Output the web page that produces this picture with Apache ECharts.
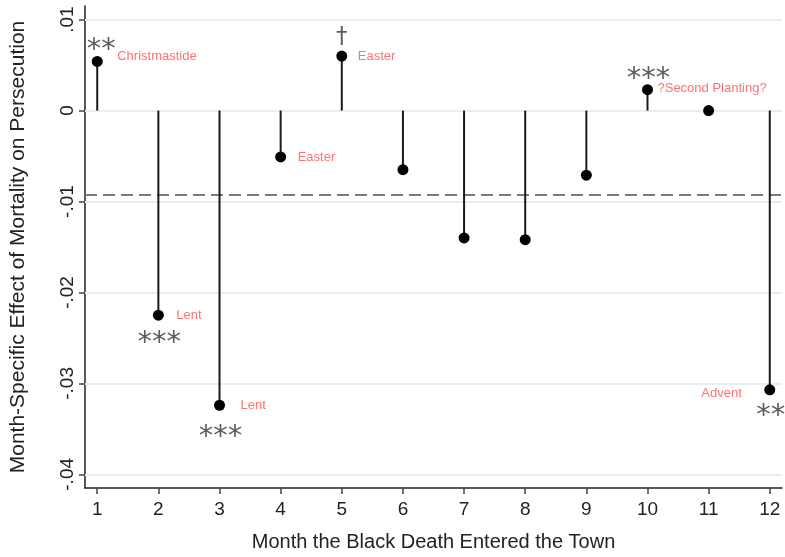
<!DOCTYPE html>
<html>
<head>
<meta charset="utf-8">
<script src="https://cdn.jsdelivr.net/npm/echarts@6/dist/echarts.min.js"></script>
<style>html,body{margin:0;padding:0;background:#fff}#c{width:785px;height:557px}</style>
</head>
<body>
<div id="c"></div>
<script>
// ---- data ----
const months = [1,2,3,4,5,6,7,8,9,10,11,12];
const effects = [0.0054,-0.0225,-0.0324,-0.0051,0.0060,-0.0065,-0.0140,-0.0142,-0.0071,0.0023,0.0000,-0.0307];
const eventLabels = ['Christmastide','Lent','Lent','Easter','Easter','','','','','?Second Planting?','','Advent'];
const stars = ['**','***','***','','\u2020','','','','','***','','**'];
const yTicks = [-0.04,-0.03,-0.02,-0.01,0,0.01];
const xTicks = [1,2,3,4,5,6,7,8,9,10,11,12];
const meanEffect = -0.0093;

// ---- placement (style) ----
const evPlace = {
  0:{position:'right',distance:15,offset:[0,-5]},
  1:{position:'right',distance:13,offset:[0,0]},
  2:{position:'right',distance:16,offset:[0,0]},
  3:{position:'right',distance:12,offset:[0,0]},
  4:{position:'right',distance:11,offset:[0,0]},
  9:{position:'right',distance:5,offset:[0,-1]},
  11:{position:'left',distance:23,offset:[0,4]}
};
const starOff = {0:[4,-11],1:[1,28],2:[1,32],4:[0,-19],9:[1,-10],11:[1,27]};

const FONT = '"Liberation Sans", Arial, sans-serif';
const chart = echarts.init(document.getElementById('c'), null, {renderer:'canvas'});

const evData = [], starData = [];
months.forEach((m,i)=>{
  if(eventLabels[i]){
    const p = evPlace[i];
    evData.push({value:[m,effects[i]], label:{show:true, formatter:eventLabels[i], position:p.position, distance:p.distance, offset:p.offset}});
  }
  if(stars[i]){
    starData.push({value:[m,effects[i]], label:{show:true, formatter:stars[i], position:'inside', offset:starOff[i],
      fontSize: stars[i]==='\u2020'?23:29}});
  }
});

chart.setOption({
  animation:false,
  grid:{left:84,right:3,top:6,bottom:64,containLabel:false},
  xAxis:{
    type:'value', min:0.8, max:12.2,
    name:'Month the Black Death Entered the Town', nameLocation:'middle', nameGap:44,
    nameTextStyle:{fontFamily:FONT,fontSize:20,color:'#222'},
    axisLine:{show:true,onZero:false,lineStyle:{color:'#222',width:1.5}},
    axisTick:{show:true,customValues:xTicks,length:6,lineStyle:{color:'#444',width:1.5}},
    axisLabel:{customValues:xTicks,fontFamily:FONT,fontSize:19,color:'#222',margin:12},
    splitLine:{show:false}
  },
  yAxis:{
    type:'value', min:-0.0415, max:0.0115,
    name:'Month-Specific Effect of Mortality on Persecution', nameLocation:'middle', nameGap:56,
    nameTextStyle:{fontFamily:FONT,fontSize:21,color:'#222'},
    axisLine:{show:true,onZero:false,lineStyle:{color:'#222',width:1.5}},
    axisTick:{show:true,customValues:yTicks,length:6,lineStyle:{color:'#444',width:1.5}},
    axisLabel:{customValues:yTicks,rotate:90,fontFamily:FONT,fontSize:19,color:'#222',margin:8,
      formatter:v=> v===0?'0':v.toFixed(2).replace('0.','.')},
    splitLine:{show:false}
  },
  series:[
    {
      type:'line', data:[], z:1, silent:true,
      markLine:{z:1,symbol:'none',silent:true,precision:4,label:{show:false},
        lineStyle:{color:'#e6eef1',width:2,type:'solid'},
        data:yTicks.map(v=>({yAxis:v}))}
    },
    {
      type:'line', data:[], z:2, silent:true,
      markLine:{z:2,symbol:'none',silent:true,precision:5,label:{show:false},
        lineStyle:{color:'#7a7a7a',width:2,type:[12,6]},
        data:[{yAxis:meanEffect}]}
    },
    {
      type:'custom', z:3, silent:true,
      data: months.map((m,i)=>[m,effects[i]]),
      renderItem:(params,api)=>{
        const a = api.coord([api.value(0),0]);
        const b = api.coord([api.value(0),api.value(1)]);
        return {type:'line',shape:{x1:a[0],y1:a[1],x2:b[0],y2:b[1]},style:{stroke:'#1a1a1a',lineWidth:2}};
      }
    },
    {
      type:'scatter', z:10, symbol:'circle', symbolSize:11,
      itemStyle:{color:'#000',opacity:1},
      data: months.map((m,i)=>[m,effects[i]])
    },
    {
      type:'scatter', z:11, symbolSize:10, itemStyle:{color:'rgba(0,0,0,0)'},
      label:{show:true,fontFamily:FONT,fontSize:13,color:'#ff4f4f'},
      data: evData
    },
    {
      type:'scatter', z:11, symbolSize:1, itemStyle:{color:'rgba(0,0,0,0)'},
      label:{show:true,fontFamily:'"DejaVu Sans", sans-serif',color:'#333'},
      data: starData
    }
  ]
});
</script>
</body>
</html>
